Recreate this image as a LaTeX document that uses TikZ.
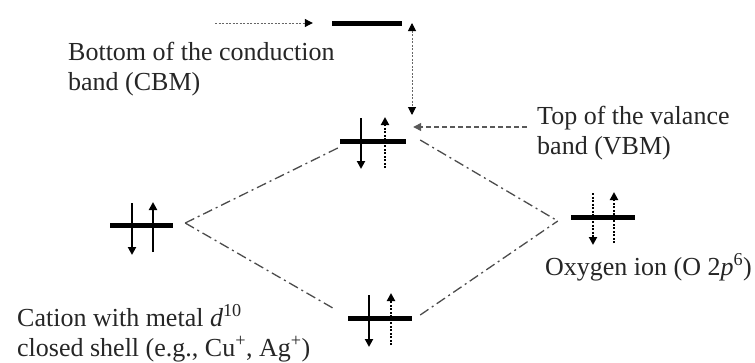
\documentclass[tikz,border=0pt]{standalone}
\usepackage{fontspec}
\setmainfont{Liberation Serif}
\usetikzlibrary{arrows.meta,calc}
\begin{document}
\begin{tikzpicture}[x=1pt,y=-1pt,
  bar/.style={draw=none,fill=black,minimum height=5pt,inner sep=0pt},
  spin/.style={line width=2pt,-{Triangle[length=8pt,width=8pt]}},
  dspin/.style={spin,dash pattern=on 2pt off 1.5pt},
  lbl/.style={font=\fontsize{26}{30}\selectfont,align=left,inner sep=0pt,text=black!85},
  guide/.style={line width=1pt,black!60,dash pattern=on 2pt off 1.5pt,-{Triangle[length=8pt,width=8pt]},arrows={[black]}},
  dashguide/.style={line width=1.3pt,black!65,dash pattern=on 5pt off 3pt,-{Triangle[length=8pt,width=8pt]}},
  dashdot/.style={line width=1.3pt,black!70,dash pattern=on 10pt off 4pt on 2pt off 4pt}]
\useasboundingbox[fill=white] (0,0) rectangle (755,362);
% levels
\node[bar,minimum width=70pt] (cbm) at (367,23) {};
\node[bar,minimum width=66pt] (vbm) at (373,141) {};
\node[bar,minimum width=63pt] (cat) at (141.5,225) {};
\node[bar,minimum width=64pt] (oxy) at (603,217) {};
\node[bar,minimum width=64pt] (bond) at (380,318) {};
% spins
\draw[spin] ($(cat.center)+(-9.5,-22)$) -- ($(cat.center)+(-9.5,30)$);
\draw[spin] ($(cat.center)+(11.5,27)$) -- ($(cat.center)+(11.5,-23)$);
\draw[spin] ($(vbm.center)+(-12,-23)$) -- ($(vbm.center)+(-12,28)$);
\draw[dspin] ($(vbm.center)+(12,27)$) -- ($(vbm.center)+(12,-24)$);
\draw[dspin] ($(oxy.center)+(-10,-24)$) -- ($(oxy.center)+(-10,28)$);
\draw[dspin] ($(oxy.center)+(11,26)$) -- ($(oxy.center)+(11,-25)$);
\draw[spin] ($(bond.center)+(-11,-23)$) -- ($(bond.center)+(-11,29)$);
\draw[dspin] ($(bond.center)+(11,27)$) -- ($(bond.center)+(11,-25)$);
% labels (base anchor = baseline of the last line)
\node[lbl,anchor=base west] (cbmtxt) at (68,90) {Bottom of the conduction\\band (CBM)};
\node[lbl,anchor=base west] (vbmtxt) at (537,154) {Top of the valance\\band (VBM)};
\node[lbl,anchor=base east] (oxytxt) at (752,275) {Oxygen ion (O 2\textit{p}\textsuperscript{6})};
\node[lbl,anchor=base west] (cattxt) at (17,356) {Cation with metal \textit{d}\textsuperscript{10}\\closed shell (e.g., Cu\textsuperscript{+}, Ag\textsuperscript{+})};
% guide arrows
\coordinate (cbmsrc) at (215,23);
\draw[guide] (cbmsrc) -- ($(cbm.west)+(-19,0)$);
\coordinate (gaptop) at (412,23);
\coordinate (gapbot) at (412,115);
\draw[guide,{Triangle[length=8pt,width=8pt]}-{Triangle[length=8pt,width=8pt]}] (gaptop) -- (gapbot);
\coordinate (vbmsrc) at (527,127);
\draw[dashguide] (vbmsrc) -- ($(vbm.east)+(7,-14)$);
% correlation lines
\draw[dashdot] ($(cat.east)+(12,-2)$) -- ($(vbm.west)+(-2,7)$);
\draw[dashdot] ($(cat.east)+(12,-2)$) -- ($(bond.west)+(-15,-10)$);
\draw[dashdot] ($(vbm.east)+(14,-1)$) -- ($(oxy.west)+(-13,4)$);
\draw[dashdot] ($(bond.east)+(8,-3)$) -- ($(oxy.west)+(-13,4)$);
\end{tikzpicture}
\end{document}
